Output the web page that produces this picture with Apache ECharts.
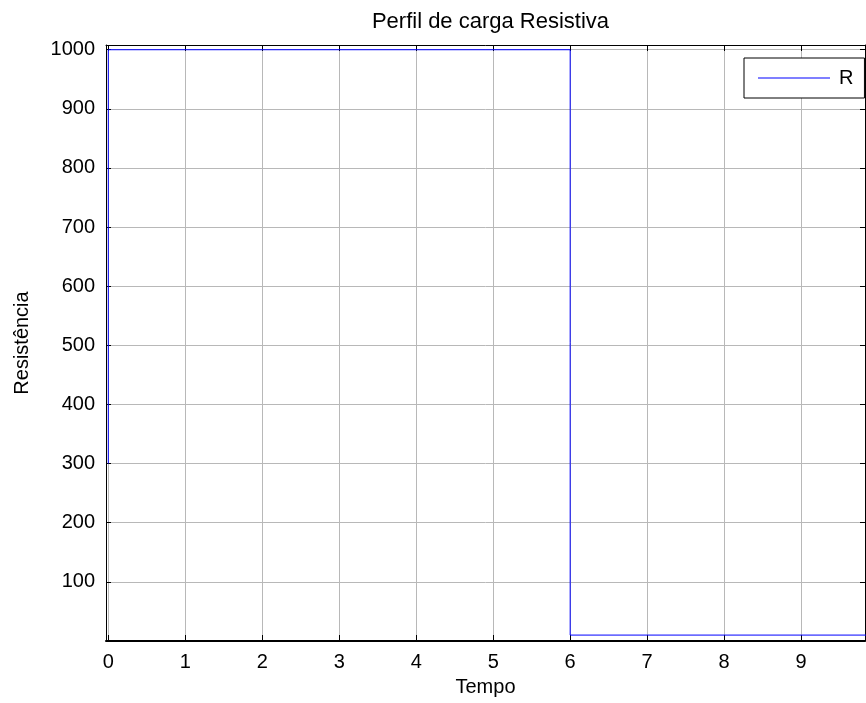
<!DOCTYPE html>
<html>
<head>
<meta charset="utf-8">
<script src="https://cdn.jsdelivr.net/npm/echarts@6/dist/echarts.min.js"></script>
<style>
html,body{margin:0;padding:0;background:#fff;}
#chart{width:866px;height:703px;}
</style>
</head>
<body>
<div id="chart"></div>
<script>
// ---- data ----
const timeValues = [0, 0, 6, 6, 10];
const resistanceValues = [300, 1000, 1000, 10, 10];
const xTickValues = [0, 1, 2, 3, 4, 5, 6, 7, 8, 9];
const seriesName = 'R';
const titleText = 'Perfil de carga Resistiva';
const xName = 'Tempo';
const yName = 'Resistência';

const FONT = '"Liberation Sans", Arial, Helvetica, sans-serif';
const X_MIN = -0.03, X_MAX = 9.83;
const Y_MIN = 0, Y_MAX = 1008;

const lineData = timeValues.map((t, i) => [t, resistanceValues[i]]);

const chart = echarts.init(document.getElementById('chart'), null, {renderer: 'canvas'});

const gridLine = {show: true, lineStyle: {color: '#b8b8b8', width: 1, type: 'solid'}};

chart.setOption({
  animation: false,
  backgroundColor: '#ffffff',
  title: {
    text: titleText,
    left: 485.5,
    textAlign: 'center',
    top: 6,
    textStyle: {fontFamily: FONT, fontSize: 22, fontWeight: 'normal', color: '#000'}
  },
  legend: {
    data: [{name: seriesName, icon: 'rect'}],
    left: 744,
    top: 58,
    orient: 'vertical',
    padding: [10, 11, 10, 14],
    itemWidth: 72,
    itemHeight: 1,
    borderColor: '#000',
    borderWidth: 1,
    backgroundColor: '#fff',
    textStyle: {fontFamily: FONT, fontSize: 20, color: '#000', padding: [0, 0, 0, 4]}
  },
  grid: {left: 106, right: 1, top: 45, bottom: 62, containLabel: false, outerBoundsMode: 'none'},
  xAxis: [
    {
      type: 'value', position: 'bottom', min: X_MIN, max: X_MAX,
      name: xName, nameLocation: 'middle', nameGap: 36,
      nameTextStyle: {fontFamily: FONT, fontSize: 20, color: '#000'},
      axisLine: {show: true, onZero: false, lineStyle: {color: '#000', width: 2}},
      axisTick: {show: true, inside: true, length: 6, customValues: xTickValues, lineStyle: {color: '#000', width: 1}},
      axisLabel: {show: true, margin: 11, customValues: xTickValues, fontFamily: FONT, fontSize: 20, color: '#000'},
      splitLine: Object.assign({customValues: xTickValues}, gridLine)
    },
    {
      type: 'value', position: 'top', min: X_MIN, max: X_MAX,
      axisLine: {show: true, onZero: false, lineStyle: {color: '#000', width: 1}},
      axisTick: {show: true, inside: true, length: 6, customValues: xTickValues, lineStyle: {color: '#000', width: 1}},
      axisLabel: {show: false},
      splitLine: {show: false}
    }
  ],
  yAxis: [
    {
      type: 'value', position: 'left', min: Y_MIN, max: Y_MAX, interval: 100,
      name: yName, nameLocation: 'middle', nameGap: 74, nameRotate: 90,
      nameTextStyle: {fontFamily: FONT, fontSize: 20, color: '#000'},
      axisLine: {show: true, onZero: false, lineStyle: {color: '#000', width: 1}},
      axisTick: {show: true, inside: true, length: 5, lineStyle: {color: '#000', width: 1}},
      axisLabel: {
        show: true, margin: 11, fontFamily: FONT, fontSize: 20, color: '#000',
        formatter: v => (v === 0 || v % 100 !== 0) ? '' : String(v)
      },
      splitLine: gridLine
    },
    {
      type: 'value', position: 'right', min: Y_MIN, max: Y_MAX, interval: 100,
      axisLine: {show: true, onZero: false, lineStyle: {color: '#000', width: 1}},
      axisTick: {show: true, inside: true, length: 5, lineStyle: {color: '#000', width: 1}},
      axisLabel: {show: false},
      splitLine: {show: false}
    }
  ],
  series: [
    {
      name: seriesName,
      type: 'line',
      xAxisIndex: 0,
      yAxisIndex: 0,
      data: lineData,
      symbol: 'none',
      showSymbol: false,
      clip: true,
      lineStyle: {color: '#0000ff', width: 1},
      itemStyle: {color: '#0000ff'}
    }
  ]
});
</script>
</body>
</html>
